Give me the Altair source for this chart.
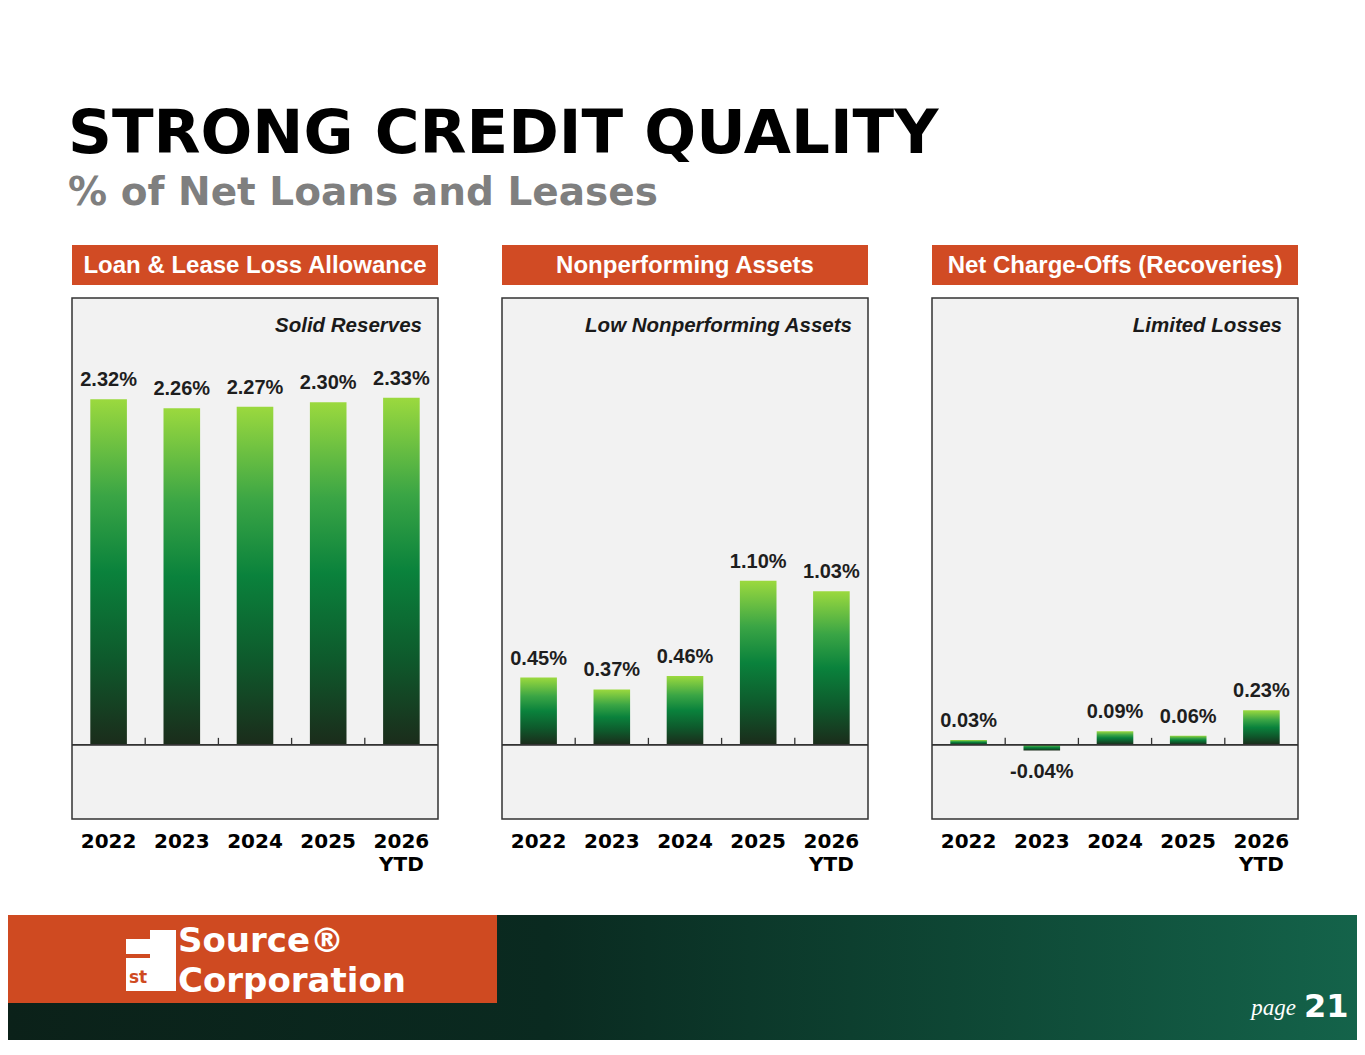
import altair as alt
import pandas as pd

# ---------------- data ----------------
years = ["2022", "2023", "2024", "2025", "2026 YTD"]
allowance = [2.32, 2.26, 2.27, 2.30, 2.33]
nonperforming = [0.45, 0.37, 0.46, 1.10, 1.03]
charge_offs = [0.03, -0.04, 0.09, 0.06, 0.23]

headers = ["Loan & Lease Loss Allowance", "Nonperforming Assets", "Net Charge-Offs (Recoveries)"]
notes = ["Solid Reserves", "Low Nonperforming Assets", "Limited Losses"]
series = [allowance, nonperforming, charge_offs]

title_text = "STRONG CREDIT QUALITY"
subtitle_text = "% of Net Loans and Leases"
logo_text = "Source\u00ae|Corporation"
logo_st = "st"
page_word = "page"
page_number = "21"

# ---------------- style ----------------
PW, PH, HH, HGAP = 366, 521, 40, 13
STEP = PW / 5
ORANGE = "#d14b24"
Y_DOMAIN = [-0.5, 3.0]
FOOT_W, FOOT_H = 1349, 125

bar_grad = alt.Gradient(
    gradient="linear", x1=0, y1=0, x2=0, y2=1,
    stops=[
        alt.GradientStop(offset=0.0, color="#9bd93e"),
        alt.GradientStop(offset=0.28, color="#3aa545"),
        alt.GradientStop(offset=0.5, color="#0a823c"),
        alt.GradientStop(offset=0.75, color="#0e5a2c"),
        alt.GradientStop(offset=1.0, color="#1b2c1b"),
    ],
)


def panel(i):
    df = pd.DataFrame({"year": years, "value": series[i]})
    df["label"] = [f"{v:.2f}%" for v in series[i]]
    x = alt.X("year:N", sort=years, scale=alt.Scale(paddingInner=0.5, paddingOuter=0.25), axis=None)
    y = alt.Y("value:Q", scale=alt.Scale(domain=Y_DOMAIN, nice=False), axis=None)
    base = alt.Chart(df)
    single = pd.DataFrame({"h": [headers[i]], "note": [notes[i]]})

    bg = alt.Chart(single).mark_rect(fill="#f2f2f2", stroke="#333333", strokeWidth=1.5).encode(
        x=alt.value(0), x2=alt.value(PW), y=alt.value(0), y2=alt.value(PH))
    head_bg = alt.Chart(single).mark_rect(fill=ORANGE).encode(
        x=alt.value(0), x2=alt.value(PW), y=alt.value(-HGAP - HH), y2=alt.value(-HGAP))
    head_tx = alt.Chart(single).mark_text(
        font="Liberation Sans", fontWeight="bold", fontSize=24, color="white",
        baseline="middle", align="center",
    ).encode(x=alt.value(PW / 2), y=alt.value(-HGAP - HH / 2 + 1), text="h:N")
    note = alt.Chart(single).mark_text(
        align="right", baseline="middle", font="Liberation Sans", fontWeight="bold",
        fontStyle="italic", fontSize=20.5, color="#1a1a1a",
    ).encode(x=alt.value(PW - 16), y=alt.value(28), text="note:N")

    bars = base.mark_bar(color=bar_grad).encode(x=x, y=y)
    txt = dict(font="Liberation Sans", fontWeight="bold", fontSize=20, color="#1e1e1e")
    pos = base.transform_filter("datum.value >= 0").mark_text(
        baseline="bottom", dy=-9, **txt).encode(x=x, y=y, text="label:N")
    neg = base.transform_filter("datum.value < 0").mark_text(
        baseline="top", dy=11, **txt).encode(x=x, y=y, text="label:N")
    zero = base.mark_rule(color="#333333", strokeWidth=1.3).encode(
        x=alt.value(0), x2=alt.value(PW), y=alt.Y("zero:Q", scale=alt.Scale(domain=Y_DOMAIN, nice=False), axis=None)
    ).transform_calculate(zero="0")
    ticks = base.transform_filter(f"datum.year != '{years[0]}'").transform_calculate(
        zero="0", tick="0.045"
    ).mark_rule(color="#333333", strokeWidth=1.3, xOffset=-STEP / 2).encode(
        x=x, y=alt.Y("zero:Q", scale=alt.Scale(domain=Y_DOMAIN, nice=False), axis=None), y2="tick:Q")
    yl = base.mark_text(
        font="DejaVu Sans", fontWeight="bold", fontSize=20, color="#000000",
        baseline="top", lineBreak=" ", lineHeight=23,
    ).encode(x=x, y=alt.value(PH + 13), text="year:N")
    return alt.layer(bg, head_bg, head_tx, note, bars, zero, ticks, pos, neg, yl).properties(
        width=PW, height=PH)


spacer = alt.Chart(pd.DataFrame({"a": [""]})).mark_text().encode(
    x=alt.value(0), y=alt.value(0), text="a:N"
).properties(width=1, height=10)

row = alt.hconcat(spacer, panel(0), panel(1), panel(2), spacing=62)

# ---------------- footer ----------------
one = pd.DataFrame({"a": [0]})
foot_grad = alt.Gradient(
    gradient="linear", x1=0, y1=0, x2=1, y2=0,
    stops=[
        alt.GradientStop(offset=0.0, color="#0b2119"),
        alt.GradientStop(offset=0.4, color="#0a2a20"),
        alt.GradientStop(offset=0.7, color="#0e4634"),
        alt.GradientStop(offset=1.0, color="#14634a"),
    ],
)
WHITE = "#ffffff"
FOOT_OR = "#cf4a21"
foot_bg = alt.Chart(one).mark_rect(color=foot_grad).encode(
    x=alt.value(0), x2=alt.value(FOOT_W), y=alt.value(0), y2=alt.value(FOOT_H))
foot_or = alt.Chart(one).mark_rect(color=FOOT_OR).encode(
    x=alt.value(0), x2=alt.value(489), y=alt.value(0), y2=alt.value(88))
one_stem = alt.Chart(one).mark_rect(color=WHITE).encode(
    x=alt.value(142), x2=alt.value(168), y=alt.value(15), y2=alt.value(76))
one_flag = alt.Chart(one).mark_rect(color=WHITE).encode(
    x=alt.value(118), x2=alt.value(142), y=alt.value(24), y2=alt.value(39))
one_box = alt.Chart(one).mark_rect(color=WHITE).encode(
    x=alt.value(118), x2=alt.value(142), y=alt.value(43), y2=alt.value(76))
logo_s = alt.Chart(pd.DataFrame({"t": [logo_st]})).mark_text(
    font="DejaVu Sans", fontWeight="bold", fontSize=17, color=FOOT_OR, align="center", baseline="alphabetic"
).encode(x=alt.value(130), y=alt.value(68), text="t:N")
logo_w = alt.Chart(pd.DataFrame({"t": [logo_text]})).mark_text(
    font="DejaVu Sans", fontWeight="bold", fontSize=34, color=WHITE, align="left",
    baseline="alphabetic", lineBreak="|", lineHeight=40,
).encode(x=alt.value(170), y=alt.value(37), text="t:N")
pg_w = alt.Chart(pd.DataFrame({"t": [page_word]})).mark_text(
    font="Liberation Serif", fontStyle="italic", fontSize=23, color=WHITE, align="right", baseline="alphabetic"
).encode(x=alt.value(1288), y=alt.value(100), text="t:N")
pg_n = alt.Chart(pd.DataFrame({"t": [page_number]})).mark_text(
    font="DejaVu Sans", fontWeight="bold", fontSize=32, color=WHITE, align="left", baseline="alphabetic"
).encode(x=alt.value(1296), y=alt.value(102), text="t:N")
footer = alt.layer(foot_bg, foot_or, one_stem, one_flag, one_box, logo_s, logo_w, pg_w, pg_n).properties(
    width=FOOT_W, height=FOOT_H)

chart = alt.vconcat(row, footer, spacing=40).properties(
    title=alt.TitleParams(
        text=title_text, subtitle=subtitle_text, anchor="start", dx=60,
        font="DejaVu Sans", fontSize=61, fontWeight="bold", color="#000000",
        subtitleFont="DejaVu Sans", subtitleFontSize=39, subtitleFontWeight="bold",
        subtitleColor="#7f7f7f", subtitlePadding=8, offset=31,
    ),
    padding={"left": 0, "right": 0, "top": 96, "bottom": 0},
    background="white",
).configure_view(strokeWidth=0)

chart.save("out.html", embed_options={"renderer": "svg", "actions": False})
